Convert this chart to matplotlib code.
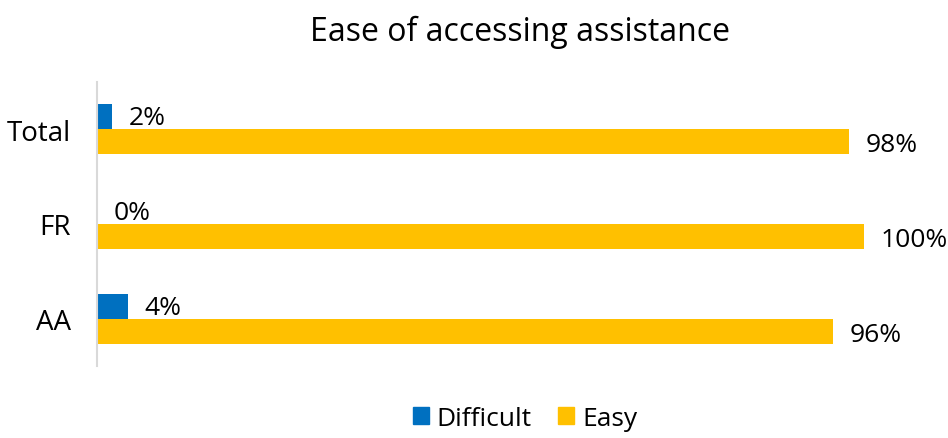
import numpy as np
import matplotlib
matplotlib.use("Agg")
from matplotlib import pyplot as plt
from matplotlib.patches import Patch

plt.rcParams['font.family'] = ['Open Sans', 'DejaVu Sans']

# data, bottom to top
categories = ["AA", "FR", "Total"]
difficult = [4, 0, 2]
easy = [96, 100, 98]

blue = "#0070C0"
yellow = "#FFC000"

fig = plt.figure(figsize=(9.48, 4.39), dpi=100)
ax = fig.add_axes([0.1023, 0.163, 0.809, 0.649])

y = np.arange(len(categories))
h = 0.265
ax.barh(y + h / 2, difficult, height=h, color=blue, label="Difficult")
ax.barh(y - h / 2, easy, height=h, color=yellow, label="Easy")

# value labels next to each bar
for i in range(len(categories)):
    ax.annotate(f"{difficult[i]}%", (difficult[i], y[i] + h / 2), xytext=(12, -1),
                textcoords="offset points", va="center", ha="left", fontsize=19,
                annotation_clip=False)
    ax.annotate(f"{easy[i]}%", (easy[i], y[i] - h / 2), xytext=(12, -2),
                textcoords="offset points", va="center", ha="left", fontsize=19,
                annotation_clip=False)

ax.set_xlim(0, 100)
ax.set_ylim(-0.5, 2.5)
ax.set_yticks(y)
ax.set_yticklabels(categories, fontsize=20)
ax.set_xticks([])
ax.tick_params(axis='y', length=0, pad=19)
for s in ["top", "right", "bottom"]:
    ax.spines[s].set_visible(False)
ax.spines["left"].set_color("#d9d9d9")
ax.spines["left"].set_linewidth(1.5)

fig.suptitle("Ease of accessing assistance", fontsize=23, x=0.548, y=0.965)

handles = [Patch(color=blue), Patch(color=yellow)]
fig.legend(handles, ["Difficult", "Easy"], loc="lower center", ncol=2,
           bbox_to_anchor=(0.554, -0.038), frameon=False, fontsize=19,
           handlelength=0.6, handleheight=0.6, handletextpad=0.3, columnspacing=1.0)

fig.savefig("out.png", dpi=100)
